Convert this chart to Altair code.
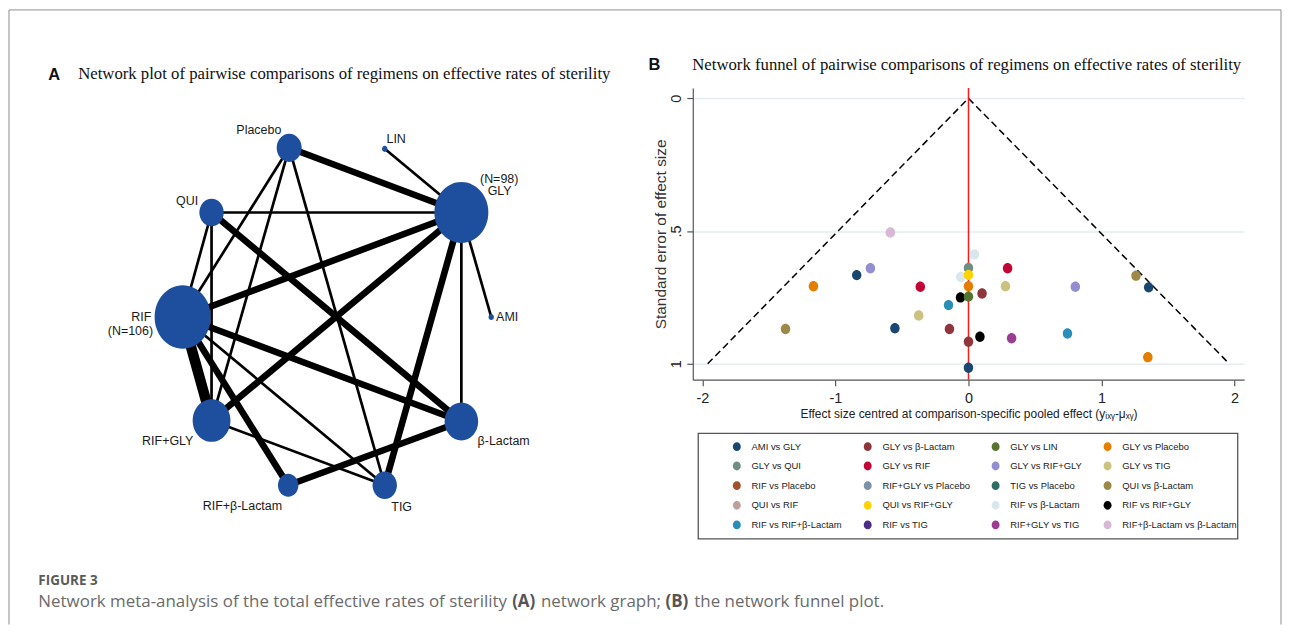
import altair as alt
import pandas as pd

# ---------------- Panel B: network funnel data ----------------
comparisons = ["AMI vs GLY", "GLY vs β-Lactam", "GLY vs LIN", "GLY vs Placebo",
               "GLY vs QUI", "GLY vs RIF", "GLY vs RIF+GLY", "GLY vs TIG",
               "RIF vs Placebo", "RIF+GLY vs Placebo", "TIG vs Placebo", "QUI vs β-Lactam",
               "QUI vs RIF", "QUI vs RIF+GLY", "RIF vs β-Lactam", "RIF vs RIF+GLY",
               "RIF vs RIF+β-Lactam", "RIF vs TIG", "RIF+GLY vs TIG", "RIF+β-Lactam vs β-Lactam"]
comparison_colors = ["#1a476f", "#90353b", "#55752f", "#e37e00",
                     "#6e8e84", "#c10534", "#938dd2", "#cac27e",
                     "#a0522d", "#7b92a8", "#2d6d66", "#9c8847",
                     "#bfa19c", "#ffd200", "#d9e6eb", "#000000",
                     "#2a8fb8", "#4b2c86", "#9c3d94", "#d8b8d6"]

pt_comparison = ["RIF+β-Lactam vs β-Lactam", "RIF vs β-Lactam", "GLY vs RIF+GLY", "GLY vs QUI",
                 "GLY vs RIF", "AMI vs GLY", "RIF vs β-Lactam", "QUI vs RIF+GLY",
                 "QUI vs β-Lactam", "GLY vs Placebo", "GLY vs RIF", "GLY vs Placebo",
                 "GLY vs TIG", "GLY vs RIF+GLY", "AMI vs GLY", "GLY vs β-Lactam",
                 "RIF vs RIF+GLY", "GLY vs LIN", "RIF vs RIF+β-Lactam", "GLY vs TIG",
                 "QUI vs β-Lactam", "AMI vs GLY", "GLY vs β-Lactam", "RIF vs RIF+GLY",
                 "RIF+GLY vs TIG", "RIF vs RIF+β-Lactam", "GLY vs β-Lactam", "GLY vs Placebo",
                 "AMI vs GLY"]
pt_effect = [-0.587, 0.045, -0.737, 0.0,
             0.294, -0.840, -0.058, 0.0,
             1.259, -1.165, -0.362, 0.0,
             0.278, 0.803, 1.354, 0.102,
             -0.060, 0.0, -0.150, -0.374,
             -1.375, -0.553, -0.143, 0.086,
             0.324, 0.744, 0.0, 1.348,
             0.0]
pt_se = [0.505, 0.588, 0.640, 0.639,
         0.640, 0.666, 0.673, 0.665,
         0.668, 0.708, 0.710, 0.708,
         0.708, 0.710, 0.712, 0.735,
         0.750, 0.747, 0.779, 0.818,
         0.869, 0.866, 0.869, 0.898,
         0.904, 0.886, 0.917, 0.975,
         1.015]

funnel_effect = [-1.96, 0.0, 1.96]
funnel_se = [1.0, 0.0, 1.0]

# ---------------- Panel A: network plot data ----------------
treatments = ["Placebo", "LIN", "GLY", "QUI", "RIF", "AMI",
              "RIF+GLY", "β-Lactam", "RIF+β-Lactam", "TIG"]
node_x = [290, 386, 463, 212, 183, 493, 212, 463, 289, 386]
node_y = [147, 148, 212, 212, 317, 317, 421, 422, 486, 486]
node_n = [21, 1, 98, 20, 106, 1, 48, 38, 14, 20]

edge_from = ["Placebo", "LIN", "QUI", "RIF", "RIF+GLY", "TIG", "β-Lactam", "AMI",
             "Placebo", "Placebo", "Placebo", "QUI", "QUI", "QUI",
             "RIF", "RIF", "RIF", "RIF", "RIF+GLY", "RIF+β-Lactam"]
edge_to = ["GLY", "GLY", "GLY", "GLY", "GLY", "GLY", "GLY", "GLY",
           "RIF", "RIF+GLY", "TIG", "RIF", "RIF+GLY", "β-Lactam",
           "RIF+GLY", "RIF+β-Lactam", "TIG", "β-Lactam", "TIG", "β-Lactam"]
edge_studies = [2, 1, 1, 2, 2, 2, 1, 1,
                1, 1, 1, 1, 1, 2,
                3, 2, 1, 2, 1, 2]

label_node = ["Placebo", "LIN", "GLY", "GLY", "QUI", "RIF", "RIF", "AMI",
              "RIF+GLY", "β-Lactam", "RIF+β-Lactam", "TIG"]
label_text = ["Placebo", "LIN", "(N=98)", "GLY", "QUI", "RIF", "(N=106)", "AMI",
              "RIF+GLY", "β-Lactam", "RIF+β-Lactam", "TIG"]

# ---------------- layout / style ----------------
OX, OY = 695.5, 87.0          # page position of panel B plot origin
PW, PH = 554, 293             # panel B plot size
NODE_BLUE = "#1e4e9e"
ELLIPSE = "M0,-1.13A1,1.13,0,1,1,0,1.13A1,1.13,0,1,1,0,-1.13Z"
DOT = "M0,-1.1A1,1.1,0,1,1,0,1.1A1,1.1,0,1,1,0,-1.1Z"
SANS = "Liberation Sans"
SERIF = "Liberation Serif"
label_dx = [-30.5, 11.5, 38, 38.5, -24.5, -41.5, -52.5, 16, -44, 42.5, -46, 17]
label_dy = [-18, -10, -34, -22, -12, 0, 14, 0, 21, 20, 21, 22]


def vx(p):
    return p - OX


def vy(p):
    return p - OY


# ---------------- tables ----------------
points = pd.DataFrame({"comparison": pt_comparison, "effect": pt_effect, "se": pt_se})
funnel = pd.DataFrame({"effect": funnel_effect, "se": funnel_se})
zero_line = pd.DataFrame({"effect": [0.0]})

nodes = pd.DataFrame({"treatment": treatments, "x": node_x, "y": node_y, "n": node_n})
pos = nodes.set_index("treatment")
edges = pd.DataFrame({"a": edge_from, "b": edge_to, "studies": edge_studies})
edges["x1"] = edges["a"].map(pos["x"])
edges["y1"] = edges["a"].map(pos["y"])
edges["x2"] = edges["b"].map(pos["x"])
edges["y2"] = edges["b"].map(pos["y"])
labels = pd.DataFrame({"node": label_node, "label": label_text})
labels["x"] = labels["node"].map(pos["x"]) + pd.Series(label_dx)
labels["y"] = labels["node"].map(pos["y"]) + pd.Series(label_dy)

# ---------------- Panel B ----------------
x_scale = alt.Scale(domain=[-2.072, 2.072], nice=False, zero=False)
y_scale = alt.Scale(domain=[-0.0386, 1.060], reverse=True, nice=False, zero=False)

x_axis = alt.Axis(values=[-2, -1, 0, 1, 2], format="d", grid=False,
                  labelExpr="replace(datum.label, '−', '-')",
                  labelFont=SANS, labelFontSize=14.5, labelColor="#222", labelPadding=6,
                  tickSize=6, tickColor="#555", tickWidth=1.2,
                  domainColor="#555", domainWidth=1.2,
                  title="Effect size centred at comparison-specific pooled effect (yᵢₓᵧ-μₓᵧ)",
                  titleFont=SANS, titleFontSize=12, titleFontWeight="normal",
                  titleColor="#222", titlePadding=3)
y_axis = alt.Axis(values=[0, 0.5, 1],
                  labelExpr="datum.value == 0.5 ? '.5' : format(datum.value, 'd')",
                  labelAngle=270, labelAlign="center", labelBaseline="bottom",
                  labelFont=SANS, labelFontSize=14.5, labelColor="#222", labelPadding=3,
                  tickSize=6, tickColor="#555", tickWidth=1.2,
                  domainColor="#555", domainWidth=1.2,
                  grid=True, gridColor="#e6edf0", gridWidth=1.5,
                  title="Standard error of effect size",
                  titleFont=SANS, titleFontSize=15.5, titleFontWeight="normal",
                  titleColor="#333", titlePadding=0)

XB = alt.X("effect:Q", scale=x_scale, axis=x_axis)
YB = alt.Y("se:Q", scale=y_scale, axis=y_axis)

funnel_lines = alt.Chart(funnel).mark_line(color="black", strokeWidth=1.5,
                                           strokeDash=[7, 4]).encode(x=XB, y=YB)
red_rule = alt.Chart(zero_line).mark_rule(color="#ff1a1a", strokeWidth=1.5).encode(x=XB)
dots = alt.Chart(points).mark_point(shape=DOT, filled=True, opacity=1, size=90,
                                    strokeWidth=0).encode(
    x=XB, y=YB,
    color=alt.Color("comparison:N",
                    scale=alt.Scale(domain=comparisons, range=comparison_colors),
                    legend=alt.Legend(orient="none", direction="horizontal",
                                      legendX=vx(735), legendY=vy(442.2),
                                      columns=4, title=None, padding=0,
                                      symbolType=DOT, symbolSize=64, symbolStrokeWidth=0,
                                      labelFont=SANS, labelFontSize=9.5, labelColor="#222",
                                      labelOffset=10, columnPadding=20.5, rowPadding=8.75,
                                      labelLimit=200)),
)
panel_b = alt.layer(funnel_lines, red_rule, dots)

# ---------------- Panel A ----------------
XA = alt.Scale(domain=[OX, OX + PW], nice=False, zero=False)
YA = alt.Scale(domain=[OY, OY + PH], reverse=True, nice=False, zero=False)

edge_layer = alt.Chart(edges).mark_rule(color="black").encode(
    x=alt.X("x1:Q", scale=XA, axis=None),
    y=alt.Y("y1:Q", scale=YA, axis=None),
    x2="x2:Q", y2="y2:Q",
    strokeWidth=alt.StrokeWidth("studies:Q", scale=alt.Scale(domain=[1, 3], range=[2.7, 10.5]),
                                legend=None),
)
node_layer = alt.Chart(nodes).mark_point(shape=ELLIPSE, filled=True, opacity=1,
                                         color=NODE_BLUE, strokeWidth=0).encode(
    x=alt.X("x:Q", scale=XA, axis=None),
    y=alt.Y("y:Q", scale=YA, axis=None),
    size=alt.Size("n:Q", scale=alt.Scale(domain=[0, 100], range=[0, 3000]), legend=None),
)
label_layer = alt.Chart(labels).mark_text(font=SANS, fontSize=12.5, color="#1a1a1a",
                                          align="center", baseline="middle").encode(
    x=alt.X("x:Q", scale=XA, axis=None),
    y=alt.Y("y:Q", scale=YA, axis=None),
    text="label:N",
)
panel_a = alt.layer(edge_layer, node_layer, label_layer)

# ---------------- decorations ----------------
one = alt.Data(values=[{}])


def txt(s, px, py, size, font=SANS, weight="normal", color="#111", align="left",
        baseline="middle"):
    return alt.Chart(one).mark_text(text=s, font=font, fontSize=size, fontWeight=weight,
                                    color=color, align=align, baseline=baseline).encode(
        x=alt.value(vx(px)), y=alt.value(vy(py)))


def hrule(px1, px2, py, color="#8c8c8c", w=1.0):
    return alt.Chart(one).mark_rule(color=color, strokeWidth=w).encode(
        x=alt.value(vx(px1)), x2=alt.value(vx(px2)), y=alt.value(vy(py)))


def vrule(px, py1, py2, color="#8c8c8c", w=1.0):
    return alt.Chart(one).mark_rule(color=color, strokeWidth=w).encode(
        x=alt.value(vx(px)), y=alt.value(vy(py1)), y2=alt.value(vy(py2)))


legend_box = alt.Chart(one).mark_rect(fillOpacity=0, stroke="#555", strokeWidth=1.3).encode(
    x=alt.value(vx(701)), x2=alt.value(vx(1243)), y=alt.value(vy(434)), y2=alt.value(vy(540)))

CAP = "Open Sans"
CAPC = "#6b6b6b"
CAPS = 17
CAPY = 608
decor = [
    vrule(8.5, 8.5, 626), hrule(8.5, 1286.5, 8.5), vrule(1286.5, 8.5, 626),
    txt("A", 54, 74, 16.5, weight="bold", align="center"),
    txt("Network plot of pairwise comparisons of regimens on effective rates of sterility",
        78, 73, 16.8, font=SERIF),
    txt("B", 657, 64, 16.5, weight="bold", align="center"),
    txt("Network funnel of pairwise comparisons of regimens on effective rates of sterility",
        695, 64, 16.8, font=SERIF),
    legend_box,
    txt("FIGURE 3", 38, 586, 13.5, font=CAP, weight="bold", color="#5a5a5a",
        baseline="alphabetic"),
    txt("Network meta-analysis of the total effective rates of sterility", 38, CAPY, CAPS,
        font=CAP, color=CAPC, baseline="alphabetic"),
    txt("(A)", 514, CAPY, CAPS, font=CAP, weight="bold", color="#555", baseline="alphabetic"),
    txt("network graph;", 543, CAPY, CAPS, font=CAP, color=CAPC, baseline="alphabetic"),
    txt("(B)", 668, CAPY, CAPS, font=CAP, weight="bold", color="#555", baseline="alphabetic"),
    txt("the network funnel plot.", 697, CAPY, CAPS, font=CAP, color=CAPC,
        baseline="alphabetic"),
]

chart = alt.layer(panel_b, panel_a, *decor).resolve_scale(
    x="independent", y="independent"
).properties(width=PW, height=PH, padding=0, background="white").configure_view(strokeWidth=0)

chart.save("out.html", embed_options={"renderer": "svg", "actions": False})
